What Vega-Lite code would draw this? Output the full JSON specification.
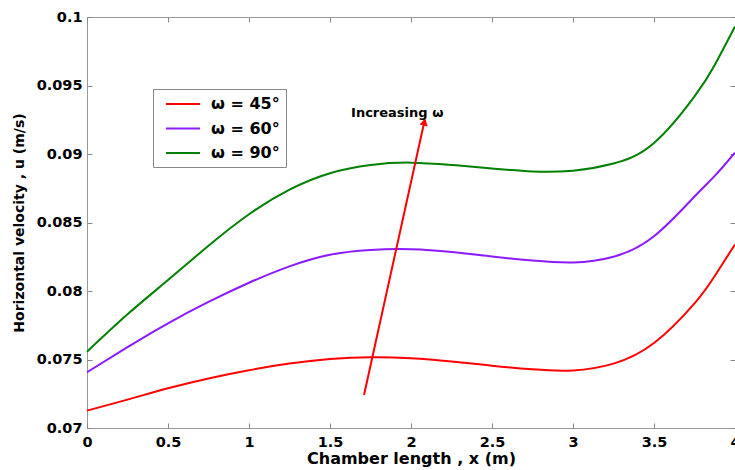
{
  "$schema": "https://vega.github.io/schema/vega-lite/v6.json",
  "width": 648,
  "height": 411,
  "autosize": {"type": "none"},
  "padding": {"left": 87, "top": 17, "right": 0, "bottom": 42},
  "background": "white",
  "config": {
    "view": {"stroke": "#999999", "strokeWidth": 1},
    "font": "DejaVu Sans",
    "axis": {
      "domain": false,
      "grid": false,
      "tickColor": "#888888",
      "tickSize": -5,
      "labelFont": "DejaVu Sans",
      "labelFontWeight": "bold",
      "labelFontSize": 14.5,
      "labelColor": "#000000",
      "titleFont": "DejaVu Sans",
      "titleFontWeight": "bold",
      "titleColor": "#000000"
    }
  },
  "datasets": {
    "curves": [
      {"x": 0, "u": 0.07127, "series": "ω = 45°"},
      {"x": 0.25, "u": 0.07207, "series": "ω = 45°"},
      {"x": 0.5, "u": 0.0729, "series": "ω = 45°"},
      {"x": 0.75, "u": 0.07362, "series": "ω = 45°"},
      {"x": 1, "u": 0.07422, "series": "ω = 45°"},
      {"x": 1.25, "u": 0.0747, "series": "ω = 45°"},
      {"x": 1.5, "u": 0.07503, "series": "ω = 45°"},
      {"x": 1.75, "u": 0.07517, "series": "ω = 45°"},
      {"x": 2, "u": 0.0751, "series": "ω = 45°"},
      {"x": 2.25, "u": 0.07486, "series": "ω = 45°"},
      {"x": 2.5, "u": 0.07455, "series": "ω = 45°"},
      {"x": 2.75, "u": 0.07428, "series": "ω = 45°"},
      {"x": 3, "u": 0.0742, "series": "ω = 45°"},
      {"x": 3.25, "u": 0.0747, "series": "ω = 45°"},
      {"x": 3.5, "u": 0.0762, "series": "ω = 45°"},
      {"x": 3.75, "u": 0.0791, "series": "ω = 45°"},
      {"x": 3.875, "u": 0.0811, "series": "ω = 45°"},
      {"x": 4, "u": 0.0834, "series": "ω = 45°"},
      {"x": 0, "u": 0.07407, "series": "ω = 60°"},
      {"x": 0.25, "u": 0.0759, "series": "ω = 60°"},
      {"x": 0.5, "u": 0.07764, "series": "ω = 60°"},
      {"x": 0.75, "u": 0.0792, "series": "ω = 60°"},
      {"x": 1, "u": 0.0806, "series": "ω = 60°"},
      {"x": 1.25, "u": 0.0818, "series": "ω = 60°"},
      {"x": 1.5, "u": 0.08265, "series": "ω = 60°"},
      {"x": 1.75, "u": 0.083, "series": "ω = 60°"},
      {"x": 2, "u": 0.08305, "series": "ω = 60°"},
      {"x": 2.25, "u": 0.08285, "series": "ω = 60°"},
      {"x": 2.5, "u": 0.08252, "series": "ω = 60°"},
      {"x": 2.75, "u": 0.08222, "series": "ω = 60°"},
      {"x": 3, "u": 0.08208, "series": "ω = 60°"},
      {"x": 3.25, "u": 0.0825, "series": "ω = 60°"},
      {"x": 3.5, "u": 0.084, "series": "ω = 60°"},
      {"x": 3.75, "u": 0.0869, "series": "ω = 60°"},
      {"x": 3.875, "u": 0.0884, "series": "ω = 60°"},
      {"x": 4, "u": 0.0901, "series": "ω = 60°"},
      {"x": 0, "u": 0.07557, "series": "ω = 90°"},
      {"x": 0.25, "u": 0.0783, "series": "ω = 90°"},
      {"x": 0.5, "u": 0.0808, "series": "ω = 90°"},
      {"x": 0.75, "u": 0.0833, "series": "ω = 90°"},
      {"x": 1, "u": 0.0856, "series": "ω = 90°"},
      {"x": 1.25, "u": 0.0874, "series": "ω = 90°"},
      {"x": 1.5, "u": 0.0886, "series": "ω = 90°"},
      {"x": 1.75, "u": 0.0892, "series": "ω = 90°"},
      {"x": 2, "u": 0.08937, "series": "ω = 90°"},
      {"x": 2.25, "u": 0.0892, "series": "ω = 90°"},
      {"x": 2.5, "u": 0.08895, "series": "ω = 90°"},
      {"x": 2.75, "u": 0.08872, "series": "ω = 90°"},
      {"x": 3, "u": 0.08878, "series": "ω = 90°"},
      {"x": 3.25, "u": 0.0893, "series": "ω = 90°"},
      {"x": 3.5, "u": 0.0908, "series": "ω = 90°"},
      {"x": 3.75, "u": 0.0942, "series": "ω = 90°"},
      {"x": 3.875, "u": 0.0965, "series": "ω = 90°"},
      {"x": 4, "u": 0.0993, "series": "ω = 90°"}
    ],
    "arrow": [{"x1": 1.71, "y1": 0.07241, "x2": 2.085, "y2": 0.0925}],
    "head": [{"x": 2.083, "u": 0.09234}],
    "note": [{"x": 1.63, "u": 0.0927, "text": "Increasing ω"}]
  },
  "layer": [
    {
      "data": {"name": "curves"},
      "mark": {"type": "line", "interpolate": "natural", "strokeWidth": 2},
      "encoding": {
        "x": {
          "field": "x", "type": "quantitative",
          "scale": {"domain": [0, 4], "nice": false, "zero": false},
          "axis": {
            "orient": "bottom",
            "values": [0, 0.5, 1, 1.5, 2, 2.5, 3, 3.5, 4],
            "format": "~g",
            "labelPadding": 12,
            "labelFlush": false,
            "title": "Chamber length , x (m)",
            "titleFontSize": 16,
            "titlePadding": 2
          }
        },
        "y": {
          "field": "u", "type": "quantitative",
          "scale": {"domain": [0.07, 0.1], "nice": false, "zero": false},
          "axis": {
            "orient": "left",
            "values": [0.07, 0.075, 0.08, 0.085, 0.09, 0.095, 0.1],
            "format": "~g",
            "labelPadding": 10,
            "labelFlush": false,
            "title": "Horizontal velocity , u (m/s)",
            "titleFontSize": 14,
            "titlePadding": 10
          }
        },
        "color": {
          "field": "series", "type": "nominal",
          "scale": {"domain": ["ω = 45°", "ω = 60°", "ω = 90°"], "range": ["#ff0000", "#8c1aff", "#008000"]},
          "legend": {
            "orient": "none",
            "legendX": 66,
            "legendY": 72,
            "title": null,
            "symbolType": "M-2.125,0H2.125",
            "symbolSize": 256,
            "symbolStrokeWidth": 2,
            "symbolFillColor": "transparent",
            "symbolOffset": 15,
            "labelFont": "DejaVu Sans",
            "labelFontWeight": "bold",
            "labelFontSize": 16,
            "labelColor": "#000000",
            "labelOffset": 19,
            "labelExpr": "datum.label + '  '",
            "rowPadding": 7.5,
            "padding": 6,
            "strokeColor": "#888888",
            "fillColor": "white"
          }
        }
      }
    },
    {
      "data": {"name": "arrow"},
      "mark": {"type": "rule", "color": "#ff0000", "strokeWidth": 2},
      "encoding": {
        "x": {"field": "x1", "type": "quantitative", "axis": {"orient": "top", "values": [0, 0.5, 1, 1.5, 2, 2.5, 3, 3.5, 4], "labels": false, "title": null}},
        "y": {"field": "y1", "type": "quantitative", "axis": {"orient": "right", "values": [0.07, 0.075, 0.08, 0.085, 0.09, 0.095, 0.1], "labels": false, "title": null}},
        "x2": {"field": "x2"},
        "y2": {"field": "y2"}
      }
    },
    {
      "data": {"name": "head"},
      "mark": {"type": "point", "shape": "triangle-up", "filled": true, "color": "#ff0000", "opacity": 1, "angle": 12.5, "size": 70},
      "encoding": {
        "x": {"field": "x", "type": "quantitative", "axis": null},
        "y": {"field": "u", "type": "quantitative", "axis": null}
      }
    },
    {
      "data": {"name": "note"},
      "mark": {"type": "text", "align": "left", "baseline": "alphabetic", "font": "DejaVu Sans", "fontWeight": "bold", "fontSize": 13, "color": "#000000"},
      "encoding": {
        "x": {"field": "x", "type": "quantitative", "axis": null},
        "y": {"field": "u", "type": "quantitative", "axis": null},
        "text": {"field": "text"}
      }
    }
  ],
  "resolve": {"axis": {"x": "independent", "y": "independent"}}
}
